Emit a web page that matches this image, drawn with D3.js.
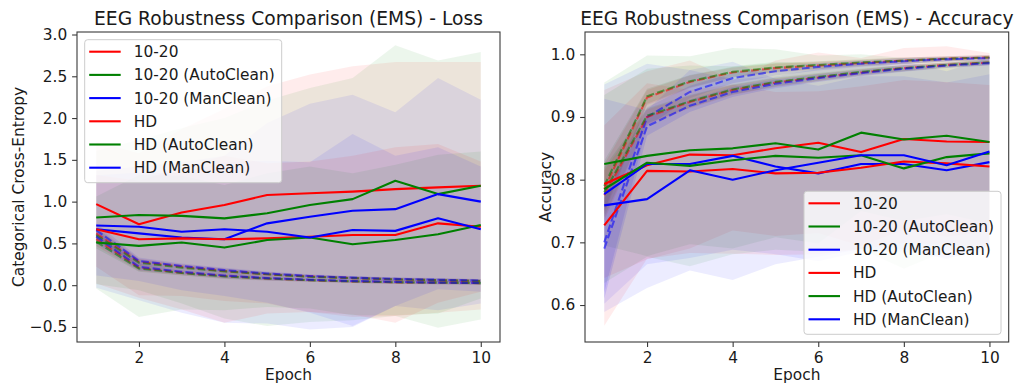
<!DOCTYPE html>
<html>
<head>
<meta charset="utf-8">
<script src="https://cdn.jsdelivr.net/npm/d3@7"></script>
<style>
  html, body { margin: 0; padding: 0; background: #ffffff; }
  svg text { font-family: "DejaVu Sans", sans-serif; fill: #1a1a1a; }
</style>
</head>
<body>
<svg id="chart" width="1015" height="385"></svg>
<script>
// ---------------- data ----------------
const epochs = [1, 2, 3, 4, 5, 6, 7, 8, 9, 10];
const seriesNames = ["10-20", "10-20 (AutoClean)", "10-20 (ManClean)", "HD", "HD (AutoClean)", "HD (ManClean)"];
const seriesColors = ["#ff0000", "#008000", "#0000ff", "#ff0000", "#008000", "#0000ff"];

const lossTicks = [-0.5, 0.0, 0.5, 1.0, 1.5, 2.0, 2.5, 3.0];
const accTicks = [0.6, 0.7, 0.8, 0.9, 1.0];
const epochTicks = [2, 4, 6, 8, 10];

// Loss – validation (solid) means and standard deviations
const lossVal_1020      = [0.97, 0.73, 0.87, 0.96, 1.08, 1.10, 1.12, 1.15, 1.17, 1.19];
const lossValSd_1020    = [0.75, 0.85, 1.00, 1.15, 1.30, 1.42, 1.50, 1.52, 1.50, 1.48];
const lossVal_1020A     = [0.81, 0.84, 0.83, 0.80, 0.86, 0.96, 1.03, 1.25, 1.09, 1.19];
const lossValSd_1020A   = [0.80, 0.90, 1.05, 1.20, 1.35, 1.40, 1.45, 1.62, 1.60, 1.60];
const lossVal_1020M     = [0.67, 0.62, 0.57, 0.55, 0.74, 0.82, 0.89, 0.91, 1.09, 1.00];
const lossValSd_1020M   = [0.70, 0.80, 0.90, 1.00, 1.20, 1.35, 1.39, 1.16, 1.39, 1.22];
const lossVal_HD        = [0.67, 0.55, 0.56, 0.55, 0.56, 0.58, 0.60, 0.60, 0.74, 0.70];
const lossValSd_HD      = [0.65, 0.70, 0.85, 1.00, 0.90, 0.90, 0.95, 1.05, 0.95, 0.78];
const lossVal_HDA       = [0.51, 0.47, 0.51, 0.45, 0.54, 0.57, 0.49, 0.54, 0.61, 0.72];
const lossValSd_HDA     = [0.55, 0.85, 0.80, 0.75, 0.80, 0.85, 0.85, 0.90, 0.95, 0.88];
const lossVal_HDM       = [0.715, 0.70, 0.64, 0.67, 0.64, 0.57, 0.66, 0.65, 0.80, 0.67];
const lossValSd_HDM     = [0.60, 0.65, 0.70, 0.80, 0.85, 0.90, 1.15, 0.90, 0.85, 0.75];

// Loss – training (dashed) means and standard deviations
const lossTrain_1020    = [0.62, 0.28, 0.22, 0.17, 0.13, 0.105, 0.085, 0.07, 0.06, 0.05];
const lossTrain_1020A   = [0.60, 0.27, 0.21, 0.165, 0.13, 0.10, 0.085, 0.07, 0.06, 0.05];
const lossTrain_1020M   = [0.66, 0.29, 0.23, 0.18, 0.14, 0.11, 0.09, 0.075, 0.065, 0.055];
const lossTrain_HD      = [0.55, 0.21, 0.15, 0.11, 0.08, 0.06, 0.045, 0.035, 0.03, 0.025];
const lossTrain_HDA     = [0.52, 0.20, 0.145, 0.105, 0.08, 0.06, 0.045, 0.035, 0.03, 0.025];
const lossTrain_HDM     = [0.58, 0.22, 0.16, 0.115, 0.085, 0.065, 0.05, 0.04, 0.03, 0.025];
const lossTrainSd       = [0.08, 0.04, 0.03, 0.03, 0.025, 0.02, 0.02, 0.02, 0.02, 0.02];

// Accuracy – validation (solid) means and standard deviations
const accVal_1020       = [0.793, 0.823, 0.840, 0.839, 0.850, 0.859, 0.844, 0.865, 0.861, 0.860];
const accValSd_1020     = [0.150, 0.150, 0.150, 0.120, 0.140, 0.144, 0.150, 0.145, 0.152, 0.142];
const accVal_1020A      = [0.825, 0.838, 0.847, 0.850, 0.858, 0.848, 0.875, 0.864, 0.870, 0.860];
const accValSd_1020A    = [0.130, 0.160, 0.150, 0.160, 0.150, 0.150, 0.125, 0.130, 0.125, 0.130];
const accVal_1020M      = [0.777, 0.825, 0.825, 0.838, 0.821, 0.810, 0.825, 0.825, 0.815, 0.828];
const accValSd_1020M    = [0.175, 0.160, 0.150, 0.150, 0.140, 0.140, 0.140, 0.140, 0.140, 0.140];
const accVal_HD         = [0.727, 0.814, 0.813, 0.817, 0.810, 0.811, 0.819, 0.829, 0.826, 0.821];
const accValSd_HD       = [0.160, 0.140, 0.130, 0.135, 0.130, 0.130, 0.130, 0.130, 0.130, 0.130];
const accVal_HDA        = [0.785, 0.827, 0.822, 0.831, 0.838, 0.835, 0.839, 0.818, 0.836, 0.842];
const accValSd_HDA      = [0.150, 0.150, 0.160, 0.150, 0.150, 0.150, 0.150, 0.160, 0.150, 0.150];
const accVal_HDM        = [0.759, 0.769, 0.815, 0.800, 0.815, 0.827, 0.839, 0.839, 0.823, 0.845];
const accValSd_HDM      = [0.170, 0.142, 0.160, 0.160, 0.150, 0.150, 0.150, 0.150, 0.150, 0.150];

// Accuracy – training (dashed) means and standard deviations
const accTrain_1020     = [0.785, 0.931, 0.956, 0.971, 0.978, 0.982, 0.986, 0.990, 0.993, 0.995];
const accTrain_1020A    = [0.790, 0.933, 0.957, 0.972, 0.979, 0.983, 0.987, 0.990, 0.993, 0.995];
const accTrain_1020M    = [0.700, 0.900, 0.940, 0.962, 0.973, 0.980, 0.985, 0.989, 0.992, 0.994];
const accTrain_HD       = [0.775, 0.900, 0.924, 0.943, 0.955, 0.963, 0.971, 0.978, 0.983, 0.987];
const accTrain_HDA      = [0.780, 0.902, 0.925, 0.944, 0.956, 0.964, 0.972, 0.978, 0.983, 0.987];
const accTrain_HDM      = [0.690, 0.885, 0.918, 0.940, 0.953, 0.962, 0.970, 0.977, 0.982, 0.986];
const accTrainSd        = [0.040, 0.012, 0.010, 0.008, 0.007, 0.006, 0.005, 0.005, 0.004, 0.004];
const accTrainSdMan     = [0.080, 0.015, 0.010, 0.008, 0.007, 0.006, 0.005, 0.005, 0.004, 0.004];

// ---------------- drawing ----------------
const FONT = 15.4;
const svg = d3.select("#chart");

function buildSeries(valMeans, valSds, trainMeans, trainSds) {
  return seriesNames.map((name, i) => ({
    name,
    color: seriesColors[i],
    val: epochs.map((e, k) => ({ e, m: valMeans[i][k], s: valSds[i][k] })),
    train: epochs.map((e, k) => ({ e, m: trainMeans[i][k], s: trainSds[i][k] }))
  }));
}

const lossSeries = buildSeries(
  [lossVal_1020, lossVal_1020A, lossVal_1020M, lossVal_HD, lossVal_HDA, lossVal_HDM],
  [lossValSd_1020, lossValSd_1020A, lossValSd_1020M, lossValSd_HD, lossValSd_HDA, lossValSd_HDM],
  [lossTrain_1020, lossTrain_1020A, lossTrain_1020M, lossTrain_HD, lossTrain_HDA, lossTrain_HDM],
  [lossTrainSd, lossTrainSd, lossTrainSd, lossTrainSd, lossTrainSd, lossTrainSd]
);

const accSeries = buildSeries(
  [accVal_1020, accVal_1020A, accVal_1020M, accVal_HD, accVal_HDA, accVal_HDM],
  [accValSd_1020, accValSd_1020A, accValSd_1020M, accValSd_HD, accValSd_HDA, accValSd_HDM],
  [accTrain_1020, accTrain_1020A, accTrain_1020M, accTrain_HD, accTrain_HDA, accTrain_HDM],
  [accTrainSd, accTrainSd, accTrainSdMan, accTrainSd, accTrainSd, accTrainSdMan]
);

function drawPanel(cfg) {
  const { id, left, right, top, bottom, yDomain, yTicks, series, title, yLabel, yLabelX, legendPos } = cfg;
  const x = d3.scaleLinear().domain([0.55, 10.45]).range([left, right]);
  const y = d3.scaleLinear().domain(yDomain).range([bottom, top]);
  const g = svg.append("g");

  g.append("clipPath").attr("id", "clip-" + id)
    .append("rect").attr("x", left).attr("y", top)
    .attr("width", right - left).attr("height", bottom - top);

  const plot = g.append("g").attr("clip-path", `url(#clip-${id})`);

  const band = d3.area().x(d => x(d.e)).y0(d => y(d.m - d.s)).y1(d => y(d.m + d.s));
  const line = d3.line().x(d => x(d.e)).y(d => y(d.m));

  // shaded ±1 sd bands
  series.forEach(s => {
    plot.append("path").attr("d", band(s.train))
      .attr("fill", s.color).attr("fill-opacity", 0.1).attr("stroke", "none");
    plot.append("path").attr("d", band(s.val))
      .attr("fill", s.color).attr("fill-opacity", 0.075).attr("stroke", "none");
  });

  // training curves (dashed)
  series.forEach(s => {
    plot.append("path").attr("d", line(s.train))
      .attr("fill", "none").attr("stroke", s.color).attr("stroke-opacity", 0.55)
      .attr("stroke-width", 2.1).attr("stroke-dasharray", "7.7,3.3");
  });

  // validation curves (solid)
  series.forEach(s => {
    plot.append("path").attr("d", line(s.val))
      .attr("fill", "none").attr("stroke", s.color)
      .attr("stroke-width", 2.1).attr("stroke-linejoin", "round");
  });

  // frame
  g.append("rect").attr("x", left).attr("y", top)
    .attr("width", right - left).attr("height", bottom - top)
    .attr("fill", "none").attr("stroke", "#3a3a3a").attr("stroke-width", 1.1);

  // y axis
  const yAxis = d3.axisLeft(y).tickValues(yTicks).tickFormat(d3.format(".1f"))
    .tickSize(4.9).tickPadding(4.9);
  const ya = g.append("g").attr("transform", `translate(${left},0)`).call(yAxis);
  ya.select(".domain").remove();
  ya.selectAll(".tick line").attr("stroke", "#3a3a3a").attr("stroke-width", 1.1);
  ya.selectAll(".tick text").attr("font-size", FONT).attr("fill", "#1a1a1a")
    .attr("font-family", "DejaVu Sans");

  // x axis
  const xAxis = d3.axisBottom(x).tickValues(epochTicks).tickFormat(d3.format("d"))
    .tickSize(4.9).tickPadding(4.9);
  const xa = g.append("g").attr("transform", `translate(0,${bottom})`).call(xAxis);
  xa.select(".domain").remove();
  xa.selectAll(".tick line").attr("stroke", "#3a3a3a").attr("stroke-width", 1.1);
  xa.selectAll(".tick text").attr("font-size", FONT).attr("fill", "#1a1a1a")
    .attr("font-family", "DejaVu Sans");

  // labels and title
  const cx = (left + right) / 2;
  g.append("text").attr("x", cx).attr("y", 379.5).attr("text-anchor", "middle")
    .attr("font-size", FONT).text("Epoch");
  g.append("text").attr("transform", `translate(${yLabelX},${(top + bottom) / 2}) rotate(-90)`)
    .attr("text-anchor", "middle").attr("font-size", FONT).text(yLabel);
  g.append("text").attr("x", cx).attr("y", 25).attr("text-anchor", "middle")
    .attr("font-size", 18.7).text(title);

  // legend
  const lw = 197, lh = 143;
  const pad = 7.7;
  const lx = legendPos === "upper left" ? left + pad : right - pad - lw;
  const ly = legendPos === "upper left" ? top + pad : bottom - pad - lh;
  const leg = g.append("g").attr("transform", `translate(${lx},${ly})`);
  leg.append("rect").attr("x", 0).attr("y", 0).attr("width", lw).attr("height", lh)
    .attr("rx", 3).attr("ry", 3)
    .attr("fill", "#ffffff").attr("fill-opacity", 0.8)
    .attr("stroke", "#cccccc").attr("stroke-width", 1);
  series.forEach((s, i) => {
    const cy = 12 + i * 23.2;
    leg.append("line").attr("x1", 4.5).attr("x2", 36).attr("y1", cy).attr("y2", cy)
      .attr("stroke", s.color).attr("stroke-width", 2.1);
    leg.append("text").attr("x", 49).attr("y", cy).attr("dy", "0.36em")
      .attr("font-size", FONT).text(s.name);
  });
}

drawPanel({
  id: "loss", left: 77, right: 500, top: 32, bottom: 342,
  yDomain: [-0.68, 3.03], yTicks: lossTicks, series: lossSeries,
  title: "EEG Robustness Comparison (EMS) - Loss",
  yLabel: "Categorical Cross-Entropy", yLabelX: 24, legendPos: "upper left"
});

drawPanel({
  id: "acc", left: 585, right: 1008.7, top: 32, bottom: 342,
  yDomain: [0.541, 1.0356], yTicks: accTicks, series: accSeries,
  title: "EEG Robustness Comparison (EMS) - Accuracy",
  yLabel: "Accuracy", yLabelX: 551, legendPos: "lower right"
});
</script>
</body>
</html>
